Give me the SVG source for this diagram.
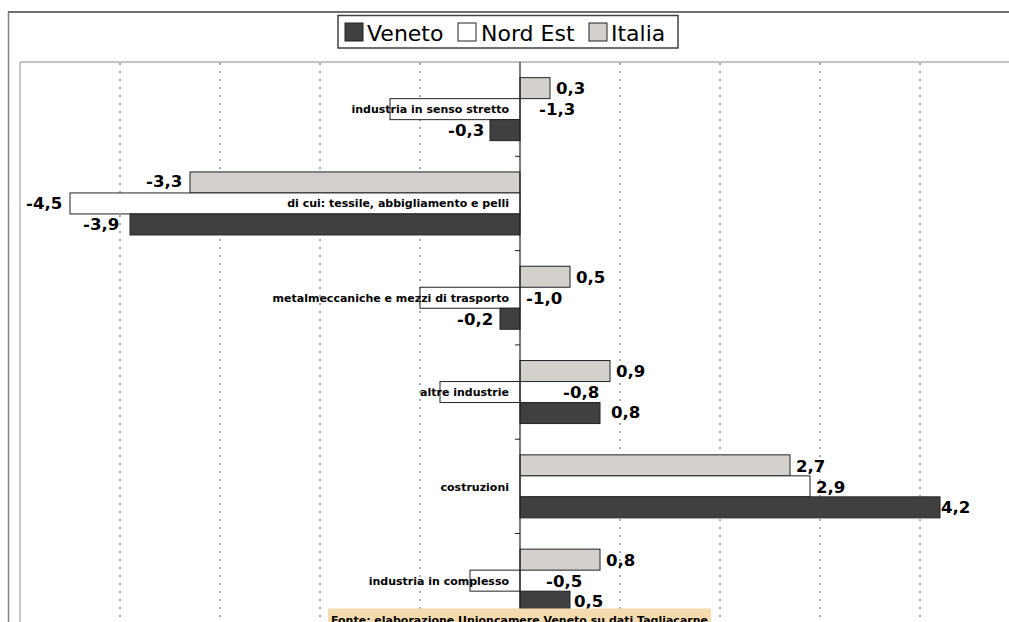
<svg xmlns="http://www.w3.org/2000/svg" width="1009" height="622" viewBox="0 0 1009 622">
<style>
.grid{stroke:#707070;stroke-width:1.2;stroke-dasharray:2,6;fill:none}
.it{fill:#d4d0cc;stroke:#222;stroke-width:1}
.ne{fill:#fff;stroke:#222;stroke-width:1}
.ve{fill:#404040;stroke:#222;stroke-width:1}
.val{font-family:"DejaVu Sans",Verdana,sans-serif;font-weight:bold;font-size:16.6px;fill:#000}
.cat{font-family:"DejaVu Sans",Verdana,sans-serif;font-weight:bold;font-size:11px;fill:#000;text-anchor:end}
.leg{font-family:"DejaVu Sans",Verdana,sans-serif;font-size:22px;fill:#000}
</style>
<rect x="0" y="0" width="1009" height="622" fill="#fff"/>
<g id="frame">
<line x1="8" y1="12" x2="1009" y2="12" stroke="#404040" stroke-width="1.5"/>
<line x1="8.5" y1="12" x2="8.5" y2="622" stroke="#808080" stroke-width="1.5"/>
<line x1="20" y1="62" x2="1009" y2="62" stroke="#b0b0b0" stroke-width="1.5"/>
<line x1="20" y1="62" x2="20" y2="622" stroke="#b8b8b8" stroke-width="1.5"/>
</g>
<g id="gridlines">
<line class="grid" x1="120" y1="63" x2="120" y2="622"/>
<line class="grid" x1="220" y1="63" x2="220" y2="622"/>
<line class="grid" x1="320" y1="63" x2="320" y2="622"/>
<line class="grid" x1="420" y1="63" x2="420" y2="622"/>
<line class="grid" x1="620" y1="63" x2="620" y2="622"/>
<line class="grid" x1="720" y1="63" x2="720" y2="622"/>
<line class="grid" x1="820" y1="63" x2="820" y2="622"/>
<line class="grid" x1="920" y1="63" x2="920" y2="622"/>
</g>
<g id="legend">
<rect x="338" y="15.5" width="340" height="32.5" fill="#fff" stroke="#404040" stroke-width="1.5"/>
<rect x="345" y="23" width="18" height="18" class="ve"/>
<text x="367" y="40.5" class="leg">Veneto</text>
<rect x="458" y="23" width="18" height="18" class="ne"/>
<text x="481" y="40.5" class="leg">Nord Est</text>
<rect x="589" y="23" width="18" height="18" class="it"/>
<text x="611" y="40.5" class="leg">Italia</text>
</g>
<g id="cat-industria-senso-stretto">
<rect class="it" x="520" y="77.65" width="30" height="21"/>
<rect class="ne" x="390" y="98.65" width="130" height="21"/>
<rect class="ve" x="490" y="119.65" width="30" height="21"/>
<text class="cat" x="509" y="112.8">industria in senso stretto</text>
<text class="val" x="556" y="94.3">0,3</text>
<text class="val" x="539" y="115">-1,3</text>
<text class="val" x="448" y="136">-0,3</text>
</g>
<g id="cat-tessile">
<rect class="it" x="190" y="171.95" width="330" height="21"/>
<rect class="ne" x="70" y="192.95" width="450" height="21"/>
<rect class="ve" x="130" y="213.95" width="390" height="21"/>
<text class="cat" x="509" y="207.3">di cui: tessile, abbigliamento e pelli</text>
<text class="val" x="146" y="187.3">-3,3</text>
<text class="val" x="26" y="209.3">-4,5</text>
<text class="val" x="83" y="230">-3,9</text>
</g>
<g id="cat-metalmeccaniche">
<rect class="it" x="520" y="266.25" width="50" height="21"/>
<rect class="ne" x="420" y="287.25" width="100" height="21"/>
<rect class="ve" x="500" y="308.25" width="20" height="21"/>
<text class="cat" x="509" y="301.8">metalmeccaniche e mezzi di trasporto</text>
<text class="val" x="576" y="282.7">0,5</text>
<text class="val" x="526" y="304.3">-1,0</text>
<text class="val" x="457" y="325">-0,2</text>
</g>
<g id="cat-altre-industrie">
<rect class="it" x="520" y="360.55" width="90" height="21"/>
<rect class="ne" x="440" y="381.55" width="80" height="21"/>
<rect class="ve" x="520" y="402.55" width="80" height="21"/>
<text class="cat" x="509" y="396">altre industrie</text>
<text class="val" x="616" y="377.3">0,9</text>
<text class="val" x="563" y="398.3">-0,8</text>
<text class="val" x="611" y="418.3">0,8</text>
</g>
<g id="cat-costruzioni">
<rect class="it" x="520" y="454.85" width="270" height="21"/>
<rect class="ne" x="520" y="475.85" width="290" height="21"/>
<rect class="ve" x="520" y="496.85" width="420" height="21"/>
<text class="cat" x="509" y="490.6">costruzioni</text>
<text class="val" x="796" y="472.3">2,7</text>
<text class="val" x="816" y="493.3">2,9</text>
<text class="val" x="941" y="513.3">4,2</text>
</g>
<g id="cat-industria-complesso">
<rect class="it" x="520" y="549.15" width="80" height="21"/>
<rect class="ne" x="470" y="570.15" width="50" height="21"/>
<rect class="ve" x="520" y="591.15" width="50" height="21"/>
<text class="cat" x="509" y="585">industria in complesso</text>
<text class="val" x="606" y="566">0,8</text>
<text class="val" x="546" y="587.3">-0,5</text>
<text class="val" x="574" y="606.7">0,5</text>
</g>
<g id="axis">
<line x1="520" y1="62" x2="520" y2="622" stroke="#202020" stroke-width="1.2"/>
<line x1="515" y1="156.3" x2="520" y2="156.3" stroke="#202020" stroke-width="1"/>
<line x1="515" y1="250.6" x2="520" y2="250.6" stroke="#202020" stroke-width="1"/>
<line x1="515" y1="344.9" x2="520" y2="344.9" stroke="#202020" stroke-width="1"/>
<line x1="515" y1="439.2" x2="520" y2="439.2" stroke="#202020" stroke-width="1"/>
<line x1="515" y1="533.5" x2="520" y2="533.5" stroke="#202020" stroke-width="1"/>
</g>
<g id="source">
<rect x="328" y="608.5" width="383" height="14" fill="#f5dcb0"/>
<text x="331" y="623.5" font-family="'DejaVu Sans',Verdana,sans-serif" font-weight="bold" font-size="11" textLength="377" lengthAdjust="spacingAndGlyphs">Fonte: elaborazione Unioncamere Veneto su dati Tagliacarne</text>
</g>
</svg>
